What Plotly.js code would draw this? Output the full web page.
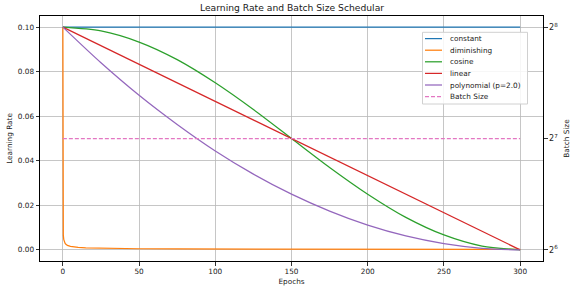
<!DOCTYPE html>
<html>
<head>
<meta charset="utf-8">
<script src="https://cdn.plot.ly/plotly-3.0.1.min.js"></script>
<style>html,body{margin:0;padding:0;background:#fff;}#chart{width:572px;height:288px;}</style>
</head>
<body>
<div id="chart"></div>
<script>
// ---- data ----
const seriesNames = ["constant", "diminishing", "cosine", "linear", "polynomial (p=2.0)", "Batch Size"];

const constantEpochs = [0, 300];
const constantLR = [0.1, 0.1];

const diminishingEpochs = [0, 0.02, 0.1, 0.3, 0.6, 1, 1.5, 2, 3, 5, 7, 10, 15, 20, 30, 50, 75, 100, 150, 200, 250, 300];
const diminishingLR = [0.1, 0.02, 0.01, 0.0065, 0.0046, 0.0036, 0.0029, 0.0025, 0.002, 0.0016, 0.0013, 0.0011, 0.0009, 0.0008, 0.00065, 0.0005, 0.0004, 0.00036, 0.0003, 0.00025, 0.00023, 0.0002];

const cosineEpochs = [0, 25, 50, 75, 100, 125, 150, 175, 200, 225, 250, 275, 300];
const cosineLR = [0.1, 0.0983, 0.0933, 0.0854, 0.075, 0.063, 0.05, 0.037, 0.025, 0.0146, 0.0067, 0.0017, 0.0];

const linearEpochs = [0, 300];
const linearLR = [0.1, 0.0];

const polyEpochs = [0, 25, 50, 75, 100, 125, 150, 175, 200, 225, 250, 275, 300];
const polyLR = [0.1, 0.084, 0.0694, 0.0563, 0.0444, 0.034, 0.025, 0.0174, 0.0111, 0.00625, 0.0028, 0.0007, 0.0];

const batchEpochs = [0, 300];
const batchSize = [128, 128];

const epochTicks = [0, 50, 100, 150, 200, 250, 300];
const lrTicks = [0, 0.02, 0.04, 0.06, 0.08, 0.10];
const batchTicks = [64, 128, 256];
const batchTickText = ["2<sup>6</sup>", "2<sup>7</sup>", "2<sup>8</sup>"];

const colors = ["#1f77b4", "#ff7f0e", "#2ca02c", "#d62728", "#9467bd", "#e377c2"];

// ---- chart ----
const FONT = "DejaVu Sans, sans-serif";
const TXT = "#1a1a1a";
const LW = 1.25;
const W = 572, H = 288;
const M = {l: 40, r: 29, t: 16, b: 27};
const pw = W - M.l - M.r, ph = H - M.t - M.b;
const px2x = p => (p - M.l) / pw;
const py2y = p => (H - M.b - p) / ph;

const traces = [
  {x: constantEpochs, y: constantLR, name: seriesNames[0], mode: "lines", line: {color: colors[0], width: LW}},
  {x: diminishingEpochs, y: diminishingLR, name: seriesNames[1], mode: "lines", line: {color: colors[1], width: LW}},
  {x: cosineEpochs, y: cosineLR, name: seriesNames[2], mode: "lines", line: {color: colors[2], width: LW, shape: "spline", smoothing: 0.8}},
  {x: linearEpochs, y: linearLR, name: seriesNames[3], mode: "lines", line: {color: colors[3], width: LW}},
  {x: polyEpochs, y: polyLR, name: seriesNames[4], mode: "lines", line: {color: colors[4], width: LW, shape: "spline", smoothing: 0.8}},
  {x: batchEpochs, y: batchSize, name: seriesNames[5], mode: "lines", yaxis: "y2", line: {color: colors[5], width: LW, dash: "4px,2px"}}
];

const shapes = [];
const annotations = [];

// secondary-axis grid drawn above the primary lines (as the twin axis does); log axis -> log10 coords
batchTicks.forEach(v => {
  const lv = Math.log10(v);
  shapes.push({type: "line", xref: "paper", yref: "y2", x0: 0, x1: 1, y0: lv, y1: lv,
    line: {color: "rgba(150,150,150,0.85)", width: 0.8, dash: "1px,1.5px"}, layer: "above"});
});

// manual matplotlib-style legend
const lg = {left: 422.5, right: 527.5, top: 32.3, bottom: 104, firstY: 38.6, step: 11.6, lineX0: 425, lineX1: 442, textX: 447.5};
shapes.push({type: "rect", xref: "paper", yref: "paper", x0: px2x(lg.left), x1: px2x(lg.right), y0: py2y(lg.bottom), y1: py2y(lg.top),
  line: {color: "#d0d0d0", width: 1}, fillcolor: "rgba(255,255,255,0.85)", layer: "above"});
seriesNames.forEach((n, i) => {
  const yy = py2y(lg.firstY + i * lg.step);
  shapes.push({type: "line", xref: "paper", yref: "paper", x0: px2x(lg.lineX0), x1: px2x(lg.lineX1), y0: yy, y1: yy,
    line: {color: colors[i], width: LW, dash: i === 5 ? "4px,2px" : "solid"}, layer: "above"});
  annotations.push({xref: "paper", yref: "paper", x: px2x(lg.textX), y: yy, xanchor: "left", yanchor: "middle",
    text: n, showarrow: false, font: {family: FONT, size: 7.3, color: TXT}});
});

const axisCommon = {
  showline: true, linecolor: "#000", linewidth: 1,
  ticks: "outside", ticklen: 3.5, tickwidth: 0.8, tickcolor: "#000",
  tickfont: {family: FONT, size: 7.3, color: TXT},
  gridcolor: "#b8b8b8", gridwidth: 0.8, zeroline: false
};

const layout = {
  width: W, height: H,
  margin: M,
  paper_bgcolor: "#fff", plot_bgcolor: "#fff",
  showlegend: false,
  font: {family: FONT, color: TXT},
  title: {text: "Learning Rate and Batch Size Schedular", font: {family: FONT, size: 9.2, color: TXT}, x: 292 / W, xanchor: "center", y: 1 - 8 / H, yanchor: "middle"},
  xaxis: Object.assign({}, axisCommon, {
    range: [-15, 315], tickvals: epochTicks, mirror: true, showgrid: true,
    title: {text: "Epochs", font: {family: FONT, size: 7.3, color: TXT}, standoff: 3}
  }),
  yaxis: Object.assign({}, axisCommon, {
    range: [-0.005, 0.105], tickvals: lrTicks, tickformat: ".2f", mirror: true, showgrid: true,
    title: {text: "Learning Rate", font: {family: FONT, size: 7.3, color: TXT}, standoff: 4}
  }),
  yaxis2: Object.assign({}, axisCommon, {
    overlaying: "y", side: "right", type: "log",
    range: [5.9 * Math.log10(2), 8.1 * Math.log10(2)],
    tickvals: batchTicks, ticktext: batchTickText, showgrid: false,
    tickfont: {family: FONT, size: 8, color: TXT},
    title: {text: "Batch Size", font: {family: FONT, size: 7.3, color: TXT}, standoff: 6}
  }),
  shapes: shapes,
  annotations: annotations
};

Plotly.newPlot("chart", traces, layout, {displayModeBar: false, staticPlot: true});
</script>
</body>
</html>
